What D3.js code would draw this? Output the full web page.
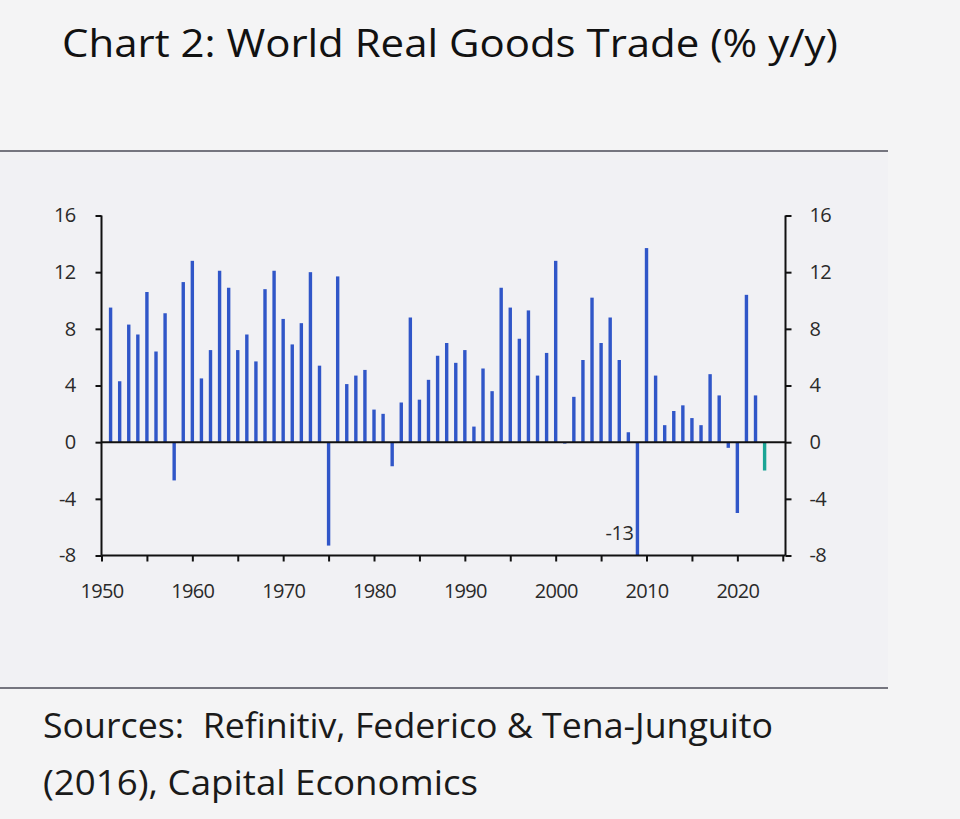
<!DOCTYPE html>
<html>
<head>
<meta charset="utf-8">
<script src="https://cdn.jsdelivr.net/npm/d3@7"></script>
<style>
  html, body { margin: 0; padding: 0; background: #f4f4f5; }
  svg { display: block; }
</style>
</head>
<body>
<svg id="chart" width="960" height="819"></svg>
<script>
// ---- data ----
const years = [1951,1952,1953,1954,1955,1956,1957,1958,1959,1960,
  1961,1962,1963,1964,1965,1966,1967,1968,1969,1970,
  1971,1972,1973,1974,1975,1976,1977,1978,1979,1980,
  1981,1982,1983,1984,1985,1986,1987,1988,1989,1990,
  1991,1992,1993,1994,1995,1996,1997,1998,1999,2000,
  2001,2002,2003,2004,2005,2006,2007,2008,2009,2010,
  2011,2012,2013,2014,2015,2016,2017,2018,2019,2020,
  2021,2022,2023];
const tradeGrowth = [9.5,4.3,8.3,7.6,10.6,6.4,9.1,-2.7,11.3,12.8,
  4.5,6.5,12.1,10.9,6.5,7.6,5.7,10.8,12.1,8.7,
  6.9,8.4,12.0,5.4,-7.3,11.7,4.1,4.7,5.1,2.3,
  2.0,-1.7,2.8,8.8,3.0,4.4,6.1,7.0,5.6,6.5,
  1.1,5.2,3.6,10.9,9.5,7.3,9.3,4.7,6.3,12.8,
  -0.1,3.2,5.8,10.2,7.0,8.8,5.8,0.7,-13,13.7,
  4.7,1.2,2.2,2.6,1.7,1.2,4.8,3.3,-0.4,-5.0,
  10.4,3.3,-2.0];
const highlightYears = [2023];
const yTickValues = [-8,-4,0,4,8,12,16];
const xMajorTicks = [1950,1960,1970,1980,1990,2000,2010,2020];
const xMinorTicks = [1955,1965,1975,1985,1995,2005,2015,2025];
const titleText = "Chart 2: World Real Goods Trade (% y/y)";
const sourceLines = ["Sources:\u00a0 Refinitiv, Federico & Tena-Junguito", "(2016), Capital Economics"];
const offScaleLabel = { year: 2009, text: "-13" };

// ---- layout ----
const svg = d3.select("#chart");
const pLeft = 101.5, pRight = 785.5, pTop = 215.5, pBottom = 555.5;
const x = d3.scaleLinear().domain([1950, 2025.3]).range([pLeft, pRight]);
const y = d3.scaleLinear().domain([-8, 16]).range([pBottom, pTop]).clamp(true);

const blue = "#3056c8", teal = "#1aa595", ink = "#111", textCol = "#2a2a2a";
const fontFam = "'Open Sans', 'Noto Sans', sans-serif";
const fmt = d => String(d);

// panel background and rules
svg.append("rect").attr("x", 0).attr("y", 152).attr("width", 888).attr("height", 536).attr("fill", "#f1f1f4");
svg.append("line").attr("x1", 0).attr("x2", 888).attr("y1", 151).attr("y2", 151).attr("stroke", "#75757f").attr("stroke-width", 2);
svg.append("line").attr("x1", 0).attr("x2", 888).attr("y1", 688).attr("y2", 688).attr("stroke", "#75757f").attr("stroke-width", 2);

// title
svg.append("text").attr("x", 62).attr("y", 57)
  .attr("font-family", fontFam).attr("font-size", 39).attr("fill", "#111")
  .attr("textLength", 776).attr("lengthAdjust", "spacingAndGlyphs")
  .text(titleText);

// sources
sourceLines.forEach((s, i) => {
  svg.append("text").attr("x", 43).attr("y", 738 + i * 57)
    .attr("font-family", fontFam).attr("font-size", 34).attr("fill", "#1a1a1a")
    .attr("textLength", i === 0 ? 730 : 435).attr("lengthAdjust", "spacingAndGlyphs")
    .text(s);
});

// bars
const data = years.map((yr, i) => ({ year: yr, value: tradeGrowth[i] }));
const barW = 3.4;
svg.append("g").selectAll("rect").data(data).join("rect")
  .attr("x", d => x(d.year) - barW / 2)
  .attr("width", barW)
  .attr("y", d => Math.min(y(d.value), y(0)))
  .attr("height", d => Math.abs(y(d.value) - y(0)))
  .attr("fill", d => highlightYears.includes(d.year) ? teal : blue);

// zero line
svg.append("line").attr("x1", pLeft).attr("x2", pRight).attr("y1", y(0)).attr("y2", y(0))
  .attr("stroke", ink).attr("stroke-width", 2);

// axes
const gl = svg.append("g").attr("transform", `translate(${pLeft},0)`)
  .call(d3.axisLeft(y).tickValues(yTickValues).tickSize(6).tickPadding(20).tickFormat(fmt));
const gr = svg.append("g").attr("transform", `translate(${pRight},0)`)
  .call(d3.axisRight(y).tickValues(yTickValues).tickSize(6).tickPadding(18).tickFormat(fmt));
const gb = svg.append("g").attr("transform", `translate(0,${pBottom})`)
  .call(d3.axisBottom(x).tickValues(xMajorTicks).tickSize(6).tickPadding(22).tickFormat(fmt));
const gm = svg.append("g").attr("transform", `translate(0,${pBottom})`)
  .call(d3.axisBottom(x).tickValues(xMinorTicks).tickSize(6).tickFormat(""));

[gl, gr, gb, gm].forEach(g => {
  g.select(".domain").attr("stroke", ink).attr("stroke-width", 2);
  g.selectAll(".tick line").attr("stroke", ink).attr("stroke-width", 2);
  g.selectAll(".tick text").attr("font-family", fontFam).attr("font-size", 20)
    .attr("fill", textCol).attr("letter-spacing", "-0.7px");
});
gb.select(".domain").attr("d", `M${pLeft},0H${pRight}`);
gm.select(".domain").remove();
gl.select(".domain").attr("d", `M0,${pTop}V${pBottom}`);
gr.select(".domain").attr("d", `M0,${pTop}V${pBottom}`);

// off-scale label
svg.append("text").attr("x", x(offScaleLabel.year) - 4).attr("y", y(-6.9))
  .attr("text-anchor", "end").attr("font-family", fontFam).attr("font-size", 20)
  .attr("fill", textCol).attr("letter-spacing", "-0.5px")
  .text(offScaleLabel.text);
</script>
</body>
</html>
